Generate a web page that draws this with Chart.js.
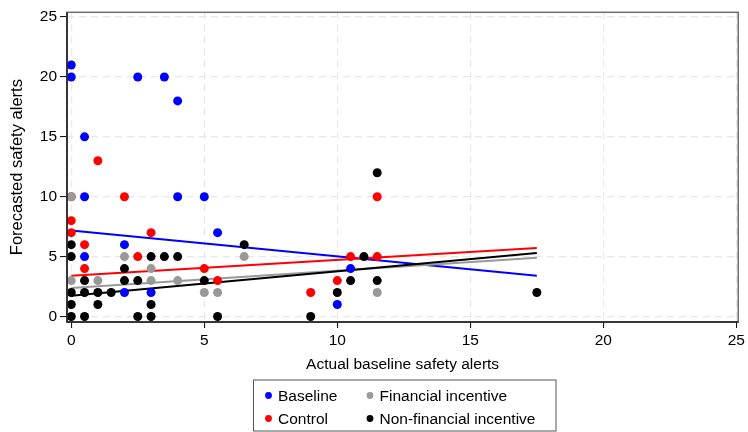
<!DOCTYPE html>
<html lang="en">
<head>
    <meta charset="UTF-8">
    <title>Forecasted vs actual safety alerts</title>
    <script src="https://cdn.jsdelivr.net/npm/chart.js"></script>
    <style>
        html, body {
            margin: 0;
            padding: 0;
            background: #fff;
        }
        #wrap {
            width: 748px;
            height: 432px;
        }
    </style>
</head>
<body>
<div id="wrap"><canvas id="alertsChart" width="748" height="432"></canvas></div>
<script>
// tick labels
const xTicks = [0, 5, 10, 15, 20, 25];
const yTicks = [0, 5, 10, 15, 20, 25];

// group names (legend order is column-wise: Baseline, Control | Financial, Non-financial)
const groups = ['Baseline', 'Control', 'Financial incentive', 'Non-financial incentive'];
const groupColors = ['#0000ff', '#ff0000', '#999999', '#000000'];

// scatter values: [actual baseline alerts, forecasted alerts]
const baselinePts = [
  [0, 21], [0, 20], [2.5, 20], [3.5, 20], [4, 18], [0.5, 15], [0.5, 10], [4, 10],
  [5, 10], [5.5, 7], [2, 6], [0.5, 5], [2, 2], [3, 2], [10.5, 4], [10, 1]
];
const controlPts = [
  [1, 13], [0, 10], [2, 10], [0, 8], [0, 7], [3, 7], [0.5, 6], [2.5, 5], [0.5, 4],
  [5, 4], [5.5, 3], [11.5, 10], [10.5, 5], [11.5, 5], [10, 3], [9, 2]
];
const financialPts = [
  [0, 10], [2, 5], [6.5, 5], [3, 4], [0, 3], [1, 3], [3, 3], [4, 3], [5, 2], [5.5, 2], [11.5, 2]
];
const nonFinancialPts = [
  [0, 6], [6.5, 6], [0, 5], [3, 5], [3.5, 5], [4, 5], [2, 4], [0.5, 3], [2, 3], [2.5, 3],
  [5, 3], [0, 2], [0.5, 2], [1, 2], [1.5, 2], [0, 1], [1, 1], [3, 1], [0, 0], [0.5, 0],
  [2.5, 0], [3, 0], [5.5, 0], [11.5, 12], [11, 5], [10.5, 3], [11.5, 3], [10, 2], [17.5, 2], [9, 0]
];

// fitted lines (start and end points)
const baselineFit = [[0, 7.18], [17.5, 3.41]];
const controlFit = [[0, 3.4], [17.5, 5.71]];
const financialFit = [[0, 2.38], [17.5, 4.91]];
const nonFinancialFit = [[0, 1.73], [17.5, 5.3]];

const FONT = "'Liberation Sans', Arial, Helvetica, sans-serif";

const toXY = arr => arr.map(p => ({ x: p[0], y: p[1] }));

const pointSets = [baselinePts, controlPts, financialPts, nonFinancialPts];
const fitSets = [baselineFit, controlFit, financialFit, nonFinancialFit];

const datasets = [];
// fit lines go underneath the dots
fitSets.forEach((fit, i) => {
  datasets.push({
    type: 'line',
    label: groups[i] + ' fit',
    data: toXY(fit),
    borderColor: groupColors[i],
    borderWidth: 2,
    pointRadius: 0,
    fill: false,
    clip: false,
    order: 20 - i
  });
});
// dots: later groups drawn on top
pointSets.forEach((pts, i) => {
  datasets.push({
    type: 'scatter',
    label: groups[i],
    data: toXY(pts),
    backgroundColor: groupColors[i],
    borderColor: groupColors[i],
    borderWidth: 0,
    pointRadius: 4.5,
    pointHoverRadius: 4.5,
    clip: false,
    order: 10 - i
  });
});

// box around the plot region
const frame = {
  id: 'frame',
  afterDatasetsDraw(chart) {
    const a = chart.chartArea;
    const ctx = chart.ctx;
    ctx.save();
    ctx.strokeStyle = '#6e6e6e';
    ctx.lineWidth = 1.5;
    ctx.strokeRect(a.left, a.top, a.right - a.left, a.bottom - a.top);
    ctx.strokeStyle = '#1a1a1a';
    ctx.beginPath();
    ctx.moveTo(a.left, a.top);
    ctx.lineTo(a.left, a.bottom);
    ctx.lineTo(a.right, a.bottom);
    ctx.stroke();
    ctx.restore();
  }
};

// two-column legend in a box under the axis title
const boxLegend = {
  id: 'boxLegend',
  afterDraw(chart) {
    const ctx = chart.ctx;
    const left = 253.5, top = 380, w = 302.5, h = 51;
    ctx.save();
    ctx.strokeStyle = '#555';
    ctx.lineWidth = 1;
    ctx.strokeRect(left, top, w, h);
    ctx.font = '15.5px ' + FONT;
    ctx.textBaseline = 'middle';
    const cols = [268.5, 370];
    const rows = [395.5, 418.5];
    groups.forEach((g, i) => {
      const cx = cols[Math.floor(i / 2)];
      const cy = rows[i % 2];
      ctx.beginPath();
      ctx.fillStyle = groupColors[i];
      ctx.arc(cx, cy, 3.4, 0, Math.PI * 2);
      ctx.fill();
      ctx.fillStyle = '#000';
      ctx.fillText(g, cx + 9.5, cy + 1);
    });
    ctx.restore();
  }
};

const ctx = document.getElementById('alertsChart').getContext('2d');
new Chart(ctx, {
  type: 'scatter',
  data: { datasets },
  options: {
    responsive: false,
    animation: false,
    events: [],
    layout: { padding: { top: 8, right: 5, bottom: 60, left: 0 } },
    plugins: {
      legend: { display: false },
      tooltip: { enabled: false }
    },
    scales: {
      x: {
        type: 'linear',
        min: -0.16,
        max: 25.07,
        afterBuildTicks: s => { s.ticks = xTicks.map(v => ({ value: v })); },
        afterFit: s => { s.height = 50; },
        ticks: {
          color: '#000',
          font: { family: FONT, size: 15.5 },
          padding: 3,
          maxRotation: 0
        },
        grid: {
          color: '#e8e8e8',
          lineWidth: 1.2,
          tickColor: '#000',
          tickLength: 6,
          tickWidth: 1
        },
        border: { display: false, dash: [7, 5] },
        title: {
          display: true,
          text: 'Actual baseline safety alerts',
          color: '#000',
          font: { family: FONT, size: 15.5 },
          padding: { top: 0, bottom: -2 }
        }
      },
      y: {
        type: 'linear',
        min: -0.46,
        max: 25.4,
        afterBuildTicks: s => { s.ticks = yTicks.map(v => ({ value: v })); },
        afterFit: s => { s.width = 67; },
        ticks: {
          color: '#000',
          font: { family: FONT, size: 15.5 },
          padding: 3
        },
        grid: {
          color: '#e8e8e8',
          lineWidth: 1.2,
          tickColor: '#000',
          tickLength: 7,
          tickWidth: 1
        },
        border: { display: false, dash: [7, 5] },
        title: {
          display: true,
          text: 'Forecasted safety alerts',
          color: '#000',
          font: { family: FONT, size: 16.5 },
          padding: { top: 8, bottom: 0 }
        }
      }
    }
  },
  plugins: [frame, boxLegend]
});
</script>
</body>
</html>
